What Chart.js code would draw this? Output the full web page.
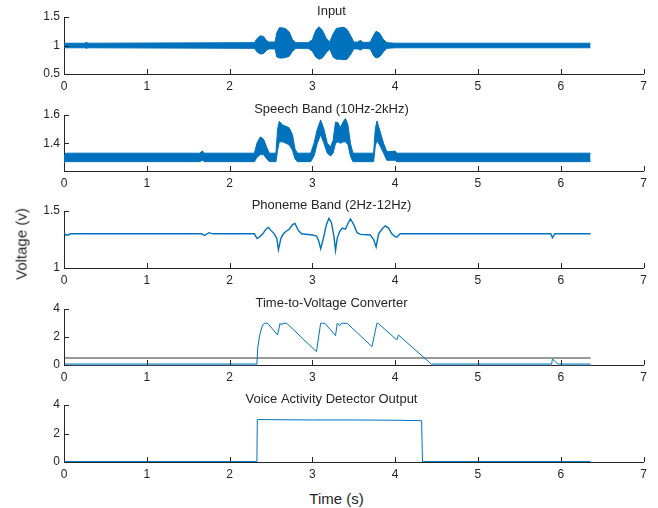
<!DOCTYPE html>
<html><head><meta charset="utf-8">
<script src="https://cdn.jsdelivr.net/npm/chart.js@4/dist/chart.umd.min.js"></script>
<style>
html,body{margin:0;padding:0;background:#fff;}
#wrap{position:relative;width:658px;height:508px;overflow:hidden;background:#fff;}
#wrap canvas{position:absolute;left:0;}
.lbl{position:absolute;font-family:"Liberation Sans",Arial,sans-serif;font-size:15px;line-height:15px;color:#262626;white-space:nowrap;}
</style></head>
<body><div id="wrap">
<canvas id="c1"></canvas><canvas id="c2"></canvas><canvas id="c3"></canvas><canvas id="c4"></canvas><canvas id="c5"></canvas>
<div class="lbl" id="xlab" style="left:336.5px;top:498px;transform:translate(-50%,-50%);">Time (s)</div>
<div class="lbl" id="ylab" style="left:21px;top:244px;transform:translate(-50%,-50%) rotate(-90deg);">Voltage (v)</div>
</div>
<script>
// ---- data ----
const titles = ["Input", "Speech Band (10Hz-2kHz)", "Phoneme Band (2Hz-12Hz)", "Time-to-Voltage Converter", "Voice Activity Detector Output"];
const xTicks = [0, 1, 2, 3, 4, 5, 6, 7];

// Input: envelope of the signal (upper / lower)
const inputT  = [0, 0.25, 0.27, 0.29, 2.30, 2.33, 2.37, 2.41, 2.45, 2.48, 2.55, 2.57, 2.60, 2.64, 2.68, 2.72, 2.76, 2.80, 2.95, 3.00, 3.04, 3.08, 3.12, 3.17, 3.21, 3.25, 3.29, 3.33, 3.38, 3.42, 3.47, 3.50, 3.55, 3.58, 3.62, 3.70, 3.74, 3.77, 3.81, 3.86, 3.90, 4.00, 6.36];
const inputHi = [1.04, 1.04, 1.055, 1.04, 1.05, 1.12, 1.17, 1.16, 1.08, 1.06, 1.06, 1.22, 1.31, 1.31, 1.29, 1.24, 1.10, 1.05, 1.05, 1.10, 1.26, 1.33, 1.27, 1.12, 1.06, 1.20, 1.30, 1.31, 1.32, 1.28, 1.15, 1.06, 1.06, 1.09, 1.05, 1.06, 1.18, 1.25, 1.22, 1.10, 1.05, 1.04, 1.04];
const inputLo = [0.96, 0.96, 0.95, 0.96, 0.95, 0.89, 0.85, 0.86, 0.92, 0.94, 0.94, 0.80, 0.78, 0.78, 0.79, 0.81, 0.90, 0.95, 0.95, 0.90, 0.80, 0.76, 0.78, 0.88, 0.94, 0.80, 0.76, 0.76, 0.75, 0.76, 0.86, 0.94, 0.94, 0.92, 0.95, 0.94, 0.82, 0.78, 0.80, 0.89, 0.95, 0.96, 0.96];
const yTicksInput = [0.5, 1, 1.5];

// Speech band: envelope
const speechT  = [0, 0.02, 1.64, 1.67, 1.70, 2.30, 2.33, 2.37, 2.41, 2.45, 2.48, 2.56, 2.58, 2.60, 2.64, 2.68, 2.72, 2.76, 2.79, 2.82, 2.98, 3.02, 3.06, 3.10, 3.14, 3.18, 3.22, 3.25, 3.28, 3.31, 3.34, 3.37, 3.40, 3.43, 3.46, 3.49, 3.74, 3.76, 3.78, 3.82, 3.86, 3.90, 4.00, 4.02, 6.36];
const speechHi = [1.31, 1.33, 1.33, 1.345, 1.33, 1.33, 1.40, 1.445, 1.43, 1.37, 1.33, 1.33, 1.50, 1.555, 1.53, 1.52, 1.51, 1.46, 1.36, 1.33, 1.33, 1.40, 1.50, 1.565, 1.50, 1.40, 1.375, 1.42, 1.55, 1.545, 1.51, 1.55, 1.575, 1.53, 1.40, 1.33, 1.33, 1.50, 1.558, 1.48, 1.40, 1.34, 1.345, 1.33, 1.33];
const speechLo = [1.26, 1.27, 1.27, 1.28, 1.27, 1.27, 1.30, 1.32, 1.32, 1.29, 1.27, 1.27, 1.35, 1.41, 1.41, 1.40, 1.39, 1.35, 1.29, 1.27, 1.27, 1.31, 1.40, 1.46, 1.40, 1.33, 1.31, 1.33, 1.40, 1.41, 1.40, 1.41, 1.41, 1.39, 1.31, 1.27, 1.27, 1.38, 1.42, 1.38, 1.33, 1.28, 1.28, 1.27, 1.27];
const yTicksSpeech = [1.4, 1.6];

// Phoneme band
const phonemeT = [0, 0.02, 0.05, 0.08, 1.66, 1.70, 1.75, 1.80, 2.30, 2.33, 2.36, 2.40, 2.44, 2.47, 2.50, 2.54, 2.57, 2.59, 2.62, 2.65, 2.68, 2.72, 2.76, 2.79, 2.83, 2.87, 3.00, 3.05, 3.08, 3.10, 3.13, 3.17, 3.20, 3.23, 3.26, 3.28, 3.30, 3.33, 3.36, 3.40, 3.43, 3.46, 3.50, 3.54, 3.58, 3.70, 3.74, 3.77, 3.80, 3.84, 3.88, 3.92, 3.96, 4.00, 4.02, 4.06, 5.88, 5.90, 5.93, 6.36];
const phonemeV = [1.31, 1.29, 1.29, 1.30, 1.30, 1.285, 1.31, 1.30, 1.30, 1.26, 1.27, 1.30, 1.34, 1.355, 1.33, 1.30, 1.26, 1.16, 1.26, 1.30, 1.32, 1.34, 1.38, 1.39, 1.33, 1.30, 1.29, 1.28, 1.23, 1.17, 1.25, 1.38, 1.435, 1.40, 1.28, 1.155, 1.26, 1.32, 1.35, 1.34, 1.39, 1.43, 1.38, 1.31, 1.295, 1.29, 1.25, 1.185, 1.30, 1.34, 1.37, 1.35, 1.30, 1.275, 1.27, 1.30, 1.30, 1.265, 1.30, 1.30];
const yTicksPhoneme = [1, 1.5];

// Time-to-voltage converter and threshold
const tvcT = [0, 2.33, 2.34, 2.36, 2.38, 2.40, 2.42, 2.46, 2.58, 2.61, 2.63, 2.64, 2.69, 3.05, 3.10, 3.15, 3.28, 3.30, 3.33, 3.35, 3.42, 3.72, 3.78, 3.80, 4.02, 4.04, 4.44, 5.89, 5.90, 5.97, 6.36];
const tvcV = [0.05, 0.05, 1.2, 2.0, 2.5, 2.85, 2.98, 2.98, 2.14, 2.98, 2.85, 2.98, 2.98, 0.95, 2.98, 2.98, 2.10, 2.98, 2.80, 2.98, 2.98, 1.31, 2.98, 2.95, 1.79, 2.14, 0.05, 0.05, 0.43, 0.05, 0.05];
const thresholdT = [0, 6.36];
const thresholdV = [0.5, 0.5];
const yTicksTvc = [0, 2, 4];

// Voice activity detector output
const vadT = [0, 2.33, 2.335, 2.50, 3.00, 3.50, 4.00, 4.32, 4.33, 6.36];
const vadV = [0.03, 0.03, 2.98, 2.97, 2.95, 2.95, 2.93, 2.90, 0.03, 0.03];
const yTicksVad = [0, 2, 4];

// ---- styling / layout ----
const BLUE = '#0072BD';
const LIGHTBLUE = '#5DA6D6';
const TXT = '#262626';
const FONT = '"Liberation Sans", Arial, sans-serif';
const TICK = 5;
Chart.defaults.font.family = FONT;
Chart.defaults.color = TXT;

const pts = (t, v) => t.map((x, i) => ({x: x, y: v[i]}));

const innerTicks = {
  id: 'innerTicks',
  afterDraw(chart) {
    const ctx = chart.ctx, a = chart.chartArea;
    const xs = chart.scales.x, ys = chart.scales.y;
    ctx.save();
    ctx.strokeStyle = TXT; ctx.lineWidth = 1;
    ctx.beginPath();
    xs.ticks.forEach(t => {
      const px = Math.round(xs.getPixelForValue(t.value)) + 0.5;
      ctx.moveTo(px, Math.round(a.bottom)); ctx.lineTo(px, Math.round(a.bottom) - TICK);
    });
    ys.ticks.forEach(t => {
      const py = Math.round(ys.getPixelForValue(t.value)) + 0.5;
      ctx.moveTo(Math.round(a.left), py); ctx.lineTo(Math.round(a.left) + TICK, py);
    });
    ctx.stroke();
    ctx.restore();
  }
};

function makeChart(id, geom, title, datasets, yMin, yMax, yTicks) {
  const cv = document.getElementById(id);
  const top = geom.T - 21;
  const h = geom.B - geom.T + 41;
  cv.width = 658; cv.height = h;
  cv.style.width = '658px'; cv.style.height = h + 'px'; cv.style.top = top + 'px';
  return new Chart(cv, {
    type: 'line',
    data: { datasets: datasets },
    options: {
      responsive: false, animation: false, devicePixelRatio: 1,
      layout: { padding: { left: 19.5, right: 14.5, top: 0, bottom: 0 } },
      elements: { point: { radius: 0 }, line: { tension: 0 } },
      plugins: {
        legend: { display: false }, tooltip: { enabled: false },
        title: { display: true, text: title, color: TXT,
          font: { family: FONT, size: 13, weight: 'normal', lineHeight: 11 / 13 },
          padding: { top: 9.5, bottom: 0.5 } }
      },
      scales: {
        x: {
          type: 'linear', min: 0, max: 7,
          afterBuildTicks: s => { s.ticks = xTicks.map(v => ({ value: v })); },
          afterFit: s => { s.height = 20; },
          ticks: { padding: 5, font: { size: 12 }, color: TXT, callback: v => String(v), maxRotation: 0, autoSkip: false },
          grid: { display: true, drawOnChartArea: false, drawTicks: false },
          border: { display: true, color: TXT, width: 1 }
        },
        y: {
          type: 'linear', min: yMin, max: yMax,
          afterBuildTicks: s => { s.ticks = yTicks.map(v => ({ value: v })); },
          afterFit: s => { s.width = 44.5; },
          ticks: { padding: 4, font: { size: 12 }, color: TXT, callback: v => String(v), autoSkip: false },
          grid: { display: true, drawOnChartArea: false, drawTicks: false },
          border: { display: true, color: TXT, width: 1 }
        }
      }
    },
    plugins: [innerTicks]
  });
}

const geoms = [
  { T: 17, B: 74 }, { T: 115, B: 171 }, { T: 211, B: 268 }, { T: 309, B: 365 }, { T: 405, B: 462 }
];

// segments lying flat on the floor of the plot are drawn lighter, as in the reference
const floorSeg = { borderColor: c => (c.p0.parsed.y < 0.1 && c.p1.parsed.y < 0.1) ? LIGHTBLUE : undefined,
                   borderWidth: c => (c.p0.parsed.y < 0.1 && c.p1.parsed.y < 0.1) ? 2 : undefined };

makeChart('c1', geoms[0], titles[0], [
  { data: pts(inputT, inputHi), borderColor: BLUE, borderWidth: 1, backgroundColor: BLUE, fill: '+1' },
  { data: pts(inputT, inputLo), borderColor: BLUE, borderWidth: 1, fill: false }
], 0.5, 1.5, yTicksInput);

makeChart('c2', geoms[1], titles[1], [
  { data: pts(speechT, speechHi), borderColor: BLUE, borderWidth: 1, backgroundColor: BLUE, fill: '+1' },
  { data: pts(speechT, speechLo), borderColor: BLUE, borderWidth: 1, fill: false }
], 1.204, 1.6, yTicksSpeech);

makeChart('c3', geoms[2], titles[2], [
  { data: pts(phonemeT, phonemeV), borderColor: BLUE, borderWidth: 1.4, fill: false }
], 1, 1.5, yTicksPhoneme);

makeChart('c4', geoms[3], titles[3], [
  { data: pts(tvcT, tvcV), borderColor: BLUE, borderWidth: 1, fill: false, clip: 3, segment: floorSeg },
  { data: pts(thresholdT, thresholdV), borderColor: '#333333', borderWidth: 1, fill: false }
], 0, 4, yTicksTvc);

makeChart('c5', geoms[4], titles[4], [
  { data: pts(vadT, vadV), borderColor: BLUE, borderWidth: 1, fill: false, clip: 3 }
], 0, 4, yTicksVad);
</script>
</body></html>
